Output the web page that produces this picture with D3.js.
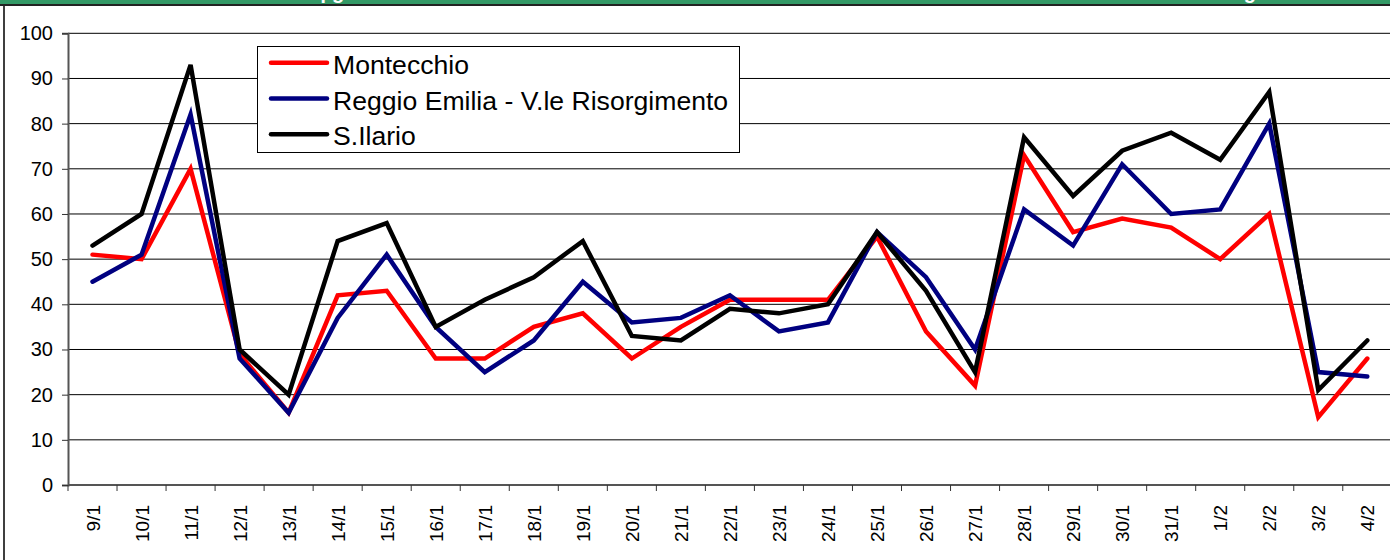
<!DOCTYPE html>
<html>
<head>
<meta charset="utf-8">
<script src="https://cdn.jsdelivr.net/npm/d3@7"></script>
<style>
  body { margin: 0; background: #fff; }
  svg { display: block; font-family: "Liberation Sans", Arial, sans-serif; }
</style>
</head>
<body>
<svg id="chart" width="1390" height="560"></svg>
<script>
// categories (days)
const days = ["9/1","10/1","11/1","12/1","13/1","14/1","15/1","16/1","17/1","18/1","19/1","20/1","21/1",
              "22/1","23/1","24/1","25/1","26/1","27/1","28/1","29/1","30/1","31/1","1/2","2/2","3/2","4/2"];

const montecchio = [51,50,70,29,16,42,43,28,28,35,38,28,35,41,41,41,55,34,22,73,56,59,57,50,60,15,28];
const reggio     = [45,51,82,28,16,37,51,35,25,32,45,36,37,42,34,36,56,46,30,61,53,71,60,61,80,25,24];
const ilario     = [53,60,93,30,20,54,58,35,41,46,54,33,32,39,38,40,56,43,25,77,64,74,78,72,87,21,32];

const seriesNames = ["Montecchio", "Reggio Emilia - V.le Risorgimento", "S.Ilario"];
const seriesColors = ["#ff0000", "#000080", "#000000"];
const yTicks = [0,10,20,30,40,50,60,70,80,90,100];

const series = [montecchio, reggio, ilario].map((vals, i) => ({
  name: seriesNames[i], color: seriesColors[i], values: vals
}));

let svg = d3.select('#chart');

// title banner (only its bottom is visible)
svg.append('rect').attr('x', 0).attr('y', 0).attr('width', 1390).attr('height', 5).attr('fill', '#339966');
svg.append('clipPath').attr('id', 'banner').append('rect')
  .attr('x', 0).attr('y', 0).attr('width', 1390).attr('height', 4.5);
let tg = svg.append('g').attr('clip-path', 'url(#banner)')
  .attr('fill', '#fff').attr('font-weight', 'bold').attr('font-size', 20);

function placeAt(text, prefix, targetX) {
  // put the text so the glyph after "prefix" starts near targetX
  let t = tg.append('text').attr('y', -1).text(prefix);
  let w = t.node().getComputedTextLength();
  t.attr('x', targetX - w).text(text);
}
placeAt("Ozono - Massimi orari µg", "Ozono - Massimi orari ", 315);
placeAt("Montecchio - V.le Risorgimento - S.Ilario", "Montecchio - V.le Riso", 1236);

// outer frame
svg.append('rect')
  .attr('x', 4).attr('y', 5).attr('width', 1400).attr('height', 570)
  .attr('fill', 'none').attr('stroke', '#000').attr('stroke-width', 1.5);
svg.append('line').attr('x1', 0).attr('x2', 1390).attr('y1', 5).attr('y2', 5)
  .attr('stroke', '#222').attr('stroke-width', 2);

let x = d3.scaleBand()
  .domain(days)
  .range([68, 68 + 27 * 49.03])
  .padding(0);

let y = d3.scaleLinear()
  .domain([0, 100])
  .range([485, 33.3]);

let cx = d => x(d) + x.bandwidth() / 2;

// gridlines
svg.append('g').selectAll('line')
  .data(yTicks.filter(t => t > 0))
  .enter().append('line')
  .attr('x1', 68).attr('x2', 1390)
  .attr('y1', d => y(d)).attr('y2', d => y(d))
  .attr('stroke', '#000').attr('stroke-width', 1);

// y axis
let yAxis = d3.axisLeft(y).tickValues(yTicks).tickSize(6).tickPadding(9);
let ya = svg.append('g').attr('transform', 'translate(68,0)').call(yAxis);
ya.select('.domain').attr('stroke', '#555').attr('stroke-width', 2);
ya.selectAll('.tick line').attr('stroke', '#333');
ya.selectAll('.tick text').attr('font-size', 20).attr('fill', '#000')
  .attr('font-family', '"Liberation Sans", Arial, sans-serif');

// x axis line + ticks at category boundaries
svg.append('line').attr('x1', 68).attr('x2', 1390).attr('y1', y(0)).attr('y2', y(0))
  .attr('stroke', '#555').attr('stroke-width', 2);
svg.append('g').selectAll('line')
  .data(days)
  .enter().append('line')
  .attr('x1', d => x(d)).attr('x2', d => x(d))
  .attr('y1', y(0)).attr('y2', y(0) + 6)
  .attr('stroke', '#333').attr('stroke-width', 1);

svg.append('g').selectAll('text')
  .data(days)
  .enter().append('text')
  .attr('transform', d => `translate(${cx(d) + 7},505) rotate(-90)`)
  .attr('text-anchor', 'end')
  .attr('font-size', 19)
  .text(d => d);

// lines
let line = d3.line()
  .x((d, i) => cx(days[i]))
  .y(d => y(d));

svg.append('g').selectAll('path')
  .data(series)
  .enter().append('path')
  .attr('d', d => line(d.values))
  .attr('fill', 'none')
  .attr('stroke', d => d.color)
  .attr('stroke-width', 4.5)
  .attr('stroke-linejoin', 'miter')
  .attr('stroke-linecap', 'round');

// legend
let lg = svg.append('g');
lg.append('rect')
  .attr('x', 257.5).attr('y', 46.5).attr('width', 482).attr('height', 106)
  .attr('fill', '#fff').attr('stroke', '#000').attr('stroke-width', 1);
let rows = lg.selectAll('g.row')
  .data(series)
  .enter().append('g')
  .attr('class', 'row')
  .attr('transform', (d, i) => `translate(0,${62.7 + i * 35.8})`);
rows.append('line')
  .attr('x1', 271).attr('x2', 327)
  .attr('stroke', d => d.color).attr('stroke-width', 4.5).attr('stroke-linecap', 'round');
rows.append('text')
  .attr('x', 333).attr('y', 11)
  .attr('font-size', 26.6)
  .text(d => d.name);
</script>
</body>
</html>
